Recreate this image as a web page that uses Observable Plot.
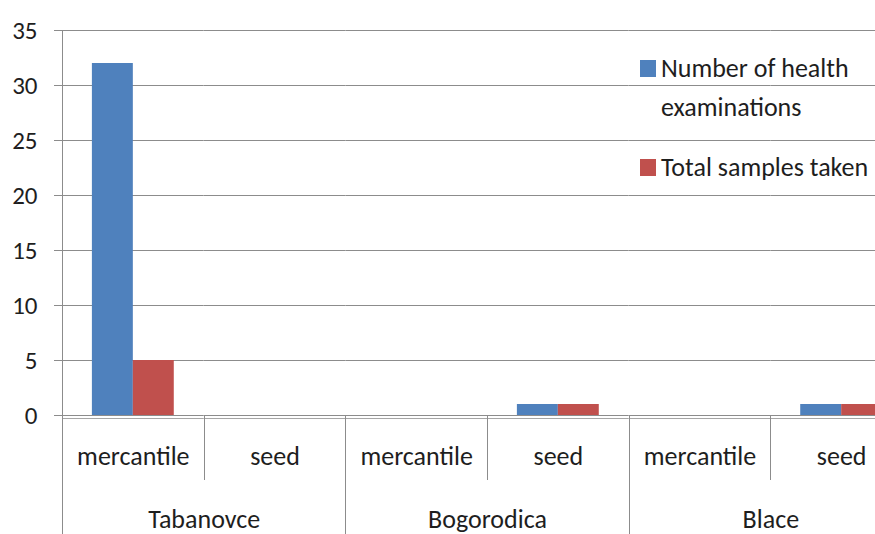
<!DOCTYPE html>
<html><head><meta charset="utf-8">
<script src="https://cdn.jsdelivr.net/npm/d3@7"></script>
<script src="https://cdn.jsdelivr.net/npm/@observablehq/plot@0.6"></script>
<style>
body{margin:0;background:#fff}
#chart{position:relative;width:875px;height:534px;overflow:hidden}
</style>
</head><body><div id="chart"></div>
<script>
const locations = ["Tabanovce", "Bogorodica", "Blace"];
const types = ["mercantile", "seed"];
const seriesNames = ["Number of health examinations", "Total samples taken"];
const examinations = [32, 0, 0, 1, 0, 1];
const samples = [5, 0, 0, 1, 0, 1];
const yTicks = [0, 5, 10, 15, 20, 25, 30, 35];
const colors = ["#4F81BD", "#C0504D"];

const combos = [];
locations.forEach(loc => types.forEach(t => combos.push({key: loc + "|" + t, location: loc, type: t})));
const rows = [];
combos.forEach((c, i) => {
  rows.push({combo: c.key, series: seriesNames[0], value: examinations[i]});
  rows.push({combo: c.key, series: seriesNames[1], value: samples[i]});
});

const font = "Carlito, Calibri, Lato, sans-serif";
const ink = "#1e1e1e";
const grid = "#8c8c8c";
const chart = Plot.plot({
  width: 875, height: 534,
  marginTop: 30, marginBottom: 119, marginLeft: 62, marginRight: -37,
  style: {fontFamily: font, background: "white"},
  fx: {domain: combos.map(c => c.key), padding: 0, round: false, axis: null},
  x: {domain: seriesNames, paddingInner: 0, paddingOuter: 0.73, round: false, axis: null},
  y: {domain: [0, 35], axis: null},
  color: {domain: seriesNames, range: colors},
  marks: [
    Plot.gridY(yTicks, {stroke: grid, strokeOpacity: 1}),
    Plot.ruleY([0], {stroke: "#a6a6a6", dy: 3}),
    Plot.barY(rows, {fx: "combo", x: "series", y: "value", fill: "series"}),
    Plot.axisY(yTicks, {label: null, tickSize: 8, tickPadding: 17, fontSize: 25, stroke: grid, fill: ink}),
    Plot.text(combos, {fx: "key", text: "type", frameAnchor: "bottom", dy: 49, fontSize: 26, fill: ink}),
    Plot.text(combos.filter(c => c.type === "seed"), {fx: "key", text: "location", frameAnchor: "bottom-left", textAnchor: "middle", dy: 112, fontSize: 26, fill: ink})
  ]
});
document.getElementById("chart").appendChild(chart);

// category-axis separators derived from Plot's fx and y scales
const fxd = chart.scale("fx");
const fx = d3.scaleBand(fxd.domain, fxd.range).paddingInner(fxd.paddingInner || 0).paddingOuter(fxd.paddingOuter || 0).align(fxd.align ?? 0.5);
const yd = chart.scale("y");
const y = d3.scaleLinear(yd.domain, yd.range);
const svg = d3.select(chart);
const g = svg.append("g").attr("stroke", grid).attr("stroke-width", 1);
const x0 = fx.range()[0], yb = y(0);
g.append("line").attr("x1", x0 + 0.5).attr("x2", x0 + 0.5).attr("y1", y(d3.max(yTicks))).attr("y2", 534);
combos.forEach((c, i) => {
  if (i === 0) return;
  const xx = Math.round(fx(c.key)) + 0.5;
  g.append("line").attr("x1", xx).attr("x2", xx).attr("y1", yb).attr("y2", c.type === "mercantile" ? 534 : yb + 65);
});

// legend
const lg = svg.append("g").attr("font-family", font).attr("font-size", 26).attr("fill", ink).attr("text-anchor", "start");
const legendRows = [
  {color: colors[0], lines: ["Number of health", "examinations"], y: 60},
  {color: colors[1], lines: ["Total samples taken"], y: 159}
];
legendRows.forEach(r => {
  lg.append("rect").attr("x", 640).attr("y", r.y).attr("width", 16).attr("height", 17).attr("fill", r.color);
  r.lines.forEach((t, j) => lg.append("text").attr("x", 661).attr("y", r.y + 17 + j * 39).text(t));
});
</script>
</body></html>
